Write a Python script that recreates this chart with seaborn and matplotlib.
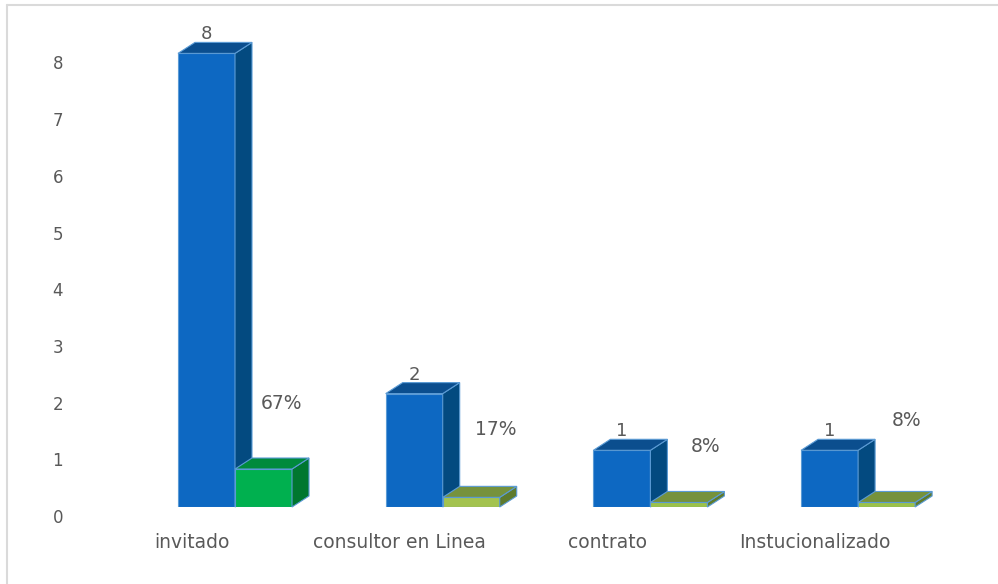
import numpy as np
import pandas as pd
import matplotlib
matplotlib.use("Agg")
import matplotlib.pyplot as plt
import seaborn as sns
from matplotlib.patches import Polygon
from matplotlib.transforms import ScaledTranslation, IdentityTransform
from matplotlib.lines import Line2D

# ---- data ----
categories = ["invitado", "consultor en Linea", "contrato", "Instucionalizado"]
counts = [8, 2, 1, 1]
percents = [0.67, 0.17, 0.08, 0.08]
count_labels = ["8", "2", "1", "1"]
percent_labels = ["67%", "17%", "8%", "8%"]
yticks = [0, 1, 2, 3, 4, 5, 6, 7, 8]

# ---- style ----
W, H, DPI = 998, 584, 100
TXT = "#595959"
blue_front, blue_side, blue_top = "#0D68C2", "#034A80", "#0B4E8E"
green_fronts = ["#00B04F", "#A3C34F", "#9CC24A", "#9CC24A"]
green_tops = ["#008A3C", "#76923C", "#76923C", "#76923C"]
green_sides = ["#00772F", "#5F7B2D", "#5F7B2D", "#5F7B2D"]
edge = "#5B9BD5"
DX, DY = 17, 11  # 3D depth in pixels
pct_dx = [18, 25, 27, 20]
pct_dy = [66, 68, 56, 82]
FONT = ["DejaVu Sans"]

sns.set_theme(style="white")
plt.rcParams["font.family"] = FONT

fig = plt.figure(figsize=(W / DPI, H / DPI), dpi=DPI)
ax = fig.add_axes([70 / W, 77 / H, (990 - 70) / W, (554 - 77) / H])

df = pd.DataFrame({
    "categoria": categories * 2,
    "valor": counts + percents,
    "serie": ["Cantidad"] * len(categories) + ["Porcentaje"] * len(categories),
})
sns.barplot(data=df, x="categoria", y="valor", hue="serie",
            palette=[blue_front, green_fronts[0]], width=0.549, dodge=True,
            saturation=1, legend=False, ax=ax, edgecolor=edge, linewidth=0.8)

pxu_x = 207.7
pxu_y = 56.7
ax.set_xlim((70 - 235) / pxu_x, (990 - 235) / pxu_x)
ax.set_ylim(0, (554 - 77) / pxu_y)
for s in ax.spines.values():
    s.set_visible(False)
ax.grid(False)
ax.set_xlabel("")
ax.set_ylabel("")

ax.set_yticks(yticks)
ax.set_yticklabels([str(t) for t in yticks])
ax.tick_params(axis="y", length=0, pad=5, labelsize=12, labelcolor=TXT)
ax.tick_params(axis="x", length=0, pad=19, labelsize=13.5, labelcolor=TXT)
for lab in ax.get_yticklabels():
    lab.set_transform(lab.get_transform() + ScaledTranslation(0, -9 / DPI, fig.dpi_scale_trans))
for lab in ax.get_xticklabels():
    lab.set_transform(lab.get_transform() + ScaledTranslation(-43 / DPI, 0, fig.dpi_scale_trans))

blue_bars = ax.containers[0]
green_bars = ax.containers[1]


def add3d(rect, top_c, side_c, z):
    x0, y0 = rect.get_x(), rect.get_y()
    x1, y1 = x0 + rect.get_width(), y0 + rect.get_height()
    (px0, py0), (px1, py1) = ax.transData.transform([(x0, y0), (x1, y1)])
    top = [(px0, py1), (px1, py1), (px1 + DX, py1 + DY), (px0 + DX, py1 + DY)]
    side = [(px1, py0), (px1, py1), (px1 + DX, py1 + DY), (px1 + DX, py0 + DY)]
    for pts, c in ((side, side_c), (top, top_c)):
        poly = Polygon(pts, closed=True, facecolor=c, edgecolor=edge, linewidth=0.8,
                       transform=IdentityTransform(), zorder=z, clip_on=False)
        ax.add_artist(poly)


for i, r in enumerate(blue_bars):
    r.set_zorder(2)
    add3d(r, blue_top, blue_side, 2)
for i, r in enumerate(green_bars):
    r.set_facecolor(green_fronts[i])
    r.set_zorder(3)
    add3d(r, green_tops[i], green_sides[i], 3)

for i, r in enumerate(blue_bars):
    cx = r.get_x() + r.get_width() / 2
    ax.annotate(count_labels[i], xy=(cx, counts[i]), xytext=(0, 19 * 0.72),
                textcoords="offset points", ha="center", va="center",
                fontsize=13, color=TXT, annotation_clip=False)
for i, r in enumerate(green_bars):
    cx = r.get_x() + r.get_width() / 2
    ax.annotate(percent_labels[i], xy=(cx, percents[i]),
                xytext=(pct_dx[i] * 0.72, pct_dy[i] * 0.72),
                textcoords="offset points", ha="center", va="center",
                fontsize=13.5, color=TXT, annotation_clip=False)

# chart frame (light gray, top and left)
fig.add_artist(Line2D([7 / W, 1], [1 - 5 / H, 1 - 5 / H], color="#DADADA", lw=1.5,
                      transform=fig.transFigure))
fig.add_artist(Line2D([7 / W, 7 / W], [0, 1 - 5 / H], color="#DADADA", lw=1.5,
                      transform=fig.transFigure))

fig.savefig("out.png", dpi=DPI)
